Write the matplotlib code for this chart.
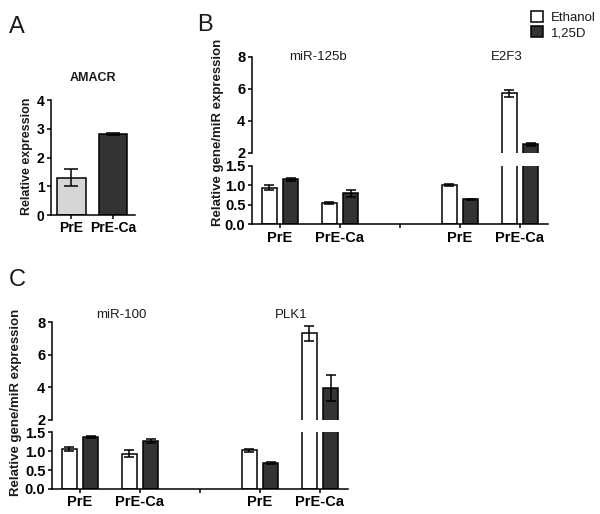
import matplotlib
matplotlib.use("Agg")
import matplotlib.pyplot as plt
from matplotlib.patches import Patch

plt.rcParams["font.family"] = ["Liberation Sans", "DejaVu Sans"]
plt.rcParams["axes.linewidth"] = 1.1
plt.rcParams["xtick.major.width"] = 1.1
plt.rcParams["ytick.major.width"] = 1.1
plt.rcParams["xtick.major.size"] = 3
plt.rcParams["ytick.major.size"] = 3
plt.rcParams["text.color"] = "#1a1a1a"

# ── Data ─────────────────────────────────────────────────────────────────────

amacr_groups = ["PrE", "PrE-Ca"]
amacr_mean = [1.30, 2.82]
amacr_err = [0.29, 0.03]

group_labels = ["PrE", "PrE-Ca", "", "PrE", "PrE-Ca"]
series_names = ["Ethanol", "1,25D"]

# panel B: miR-125b (PrE, PrE-Ca), E2F3 (PrE, PrE-Ca)
b_eth_mean = [0.94, 0.54, 1.01, 5.73]
b_eth_err = [0.06, 0.02, 0.03, 0.22]
b_vd_mean = [1.15, 0.80, 0.64, 2.54]
b_vd_err = [0.03, 0.09, 0.02, 0.08]

# panel C: miR-100 (PrE, PrE-Ca), PLK1 (PrE, PrE-Ca)
c_eth_mean = [1.06, 0.93, 1.02, 7.32]
c_eth_err = [0.06, 0.09, 0.03, 0.46]
c_vd_mean = [1.37, 1.27, 0.69, 3.95]
c_vd_err = [0.02, 0.05, 0.02, 0.80]

DARK = "#333333"
LIGHT = "#d6d6d6"
W, H = 600, 514


def px_axes(fig, x0, x1, y_top, y_bot):
    """Add axes from pixel bounds (origin top-left)."""
    return fig.add_axes([x0 / W, 1 - y_bot / H, (x1 - x0) / W, (y_bot - y_top) / H])


def style(ax, size=10.5):
    for s in ("top", "right"):
        ax.spines[s].set_visible(False)
    ax.tick_params(labelsize=size, pad=1.5)
    for lab in ax.get_xticklabels() + ax.get_yticklabels():
        lab.set_fontweight("bold")


fig = plt.figure(figsize=(W / 100, H / 100), dpi=100)

# ── Panel A ──────────────────────────────────────────────────────────────────

ax = px_axes(fig, 50.7, 135, 100, 215)
xa = range(len(amacr_groups))
ax.bar(xa, amacr_mean, width=0.69, color=[LIGHT, DARK], edgecolor="black",
       linewidth=1.1, yerr=amacr_err, capsize=5,
       error_kw=dict(elinewidth=1.1, capthick=1.1, ecolor="black"))
ax.set_xlim(-0.5, 1.53)
ax.set_ylim(0, 4)
ax.set_yticks([0, 1, 2, 3, 4])
ax.set_xticks(list(xa))
ax.set_xticklabels(amacr_groups)
ax.set_title("AMACR", fontsize=9, fontweight="bold", pad=14)
style(ax, size=10)
fig.text(27 / W, 1 - 156 / H, "Relative expression", rotation=90,
         fontsize=9, fontweight="bold", ha="center", va="center")
fig.text(17 / W, 1 - 27 / H, "A", fontsize=17, ha="center", va="center")


# ── Panels B and C (broken axis) ─────────────────────────────────────────────

def broken_panel(x0, x1, top_px, brk_hi, brk_lo, base_px, eth_mean, eth_err,
                 vd_mean, vd_err, titles, title_x, title_y):
    ax_t = px_axes(fig, x0, x1, top_px, brk_hi)
    ax_b = px_axes(fig, x0, x1, brk_lo, base_px)
    pos = [0, 1, 3, 4]
    off, bw = 0.18, 0.25
    for a in (ax_t, ax_b):
        a.bar([p - off for p in pos], eth_mean, width=bw, color="white",
              edgecolor="black", linewidth=1.1, yerr=eth_err, capsize=3.5,
              error_kw=dict(elinewidth=1.1, capthick=1.1, ecolor="black"))
        a.bar([p + off for p in pos], vd_mean, width=bw, color=DARK,
              edgecolor="black", linewidth=1.1, yerr=vd_err, capsize=3.5,
              error_kw=dict(elinewidth=1.1, capthick=1.1, ecolor="black"))
        a.set_xlim(-0.47, 4.47)
    ax_t.set_ylim(2, 8)
    ax_t.set_yticks([2, 4, 6, 8])
    ax_t.spines["bottom"].set_visible(False)
    ax_t.set_xticks([])
    ax_b.set_ylim(0, 1.5)
    ax_b.set_yticks([0.0, 0.5, 1.0, 1.5])
    ax_b.set_yticklabels(["0.0", "0.5", "1.0", "1.5"])
    ax_b.set_xticks([0, 1, 2, 3, 4])
    ax_b.set_xticklabels(group_labels)
    style(ax_t)
    style(ax_b)
    for t, tx in zip(titles, title_x):
        ax_t.text(tx, title_y, t, fontsize=9.5, ha="center", va="center",
                  clip_on=False)
    return ax_t, ax_b


broken_panel(251.7, 548, 56.7, 153, 165.7, 224.3, b_eth_mean, b_eth_err,
             b_vd_mean, b_vd_err, ["miR-125b", "E2F3"], [0.63, 3.78], 8.0)
fig.text(218 / W, 1 - 132 / H, "Relative gene/miR expression", rotation=90,
         fontsize=9.5, fontweight="bold", ha="center", va="center")
fig.text(205 / W, 1 - 25 / H, "B", fontsize=17, ha="center", va="center")

broken_panel(51.7, 348, 322.3, 419.5, 432.3, 489, c_eth_mean, c_eth_err,
             c_vd_mean, c_vd_err, ["miR-100", "PLK1"], [0.69, 3.53], 8.45)
fig.text(16 / W, 1 - 402 / H, "Relative gene/miR expression", rotation=90,
         fontsize=9.5, fontweight="bold", ha="center", va="center")
fig.text(17 / W, 1 - 280 / H, "C", fontsize=17, ha="center", va="center")

# ── Legend ───────────────────────────────────────────────────────────────────

handles = [Patch(facecolor="white", edgecolor="black", linewidth=1.1),
           Patch(facecolor=DARK, edgecolor="black", linewidth=1.1)]
fig.legend(handles, series_names, loc="upper left",
           bbox_to_anchor=(522 / W, 1 - 2 / H), frameon=False, fontsize=9.5,
           handlelength=0.9, handleheight=0.9, handletextpad=0.6,
           labelspacing=0.15, borderpad=0.2)

fig.savefig("out.png", dpi=100, facecolor="white")
